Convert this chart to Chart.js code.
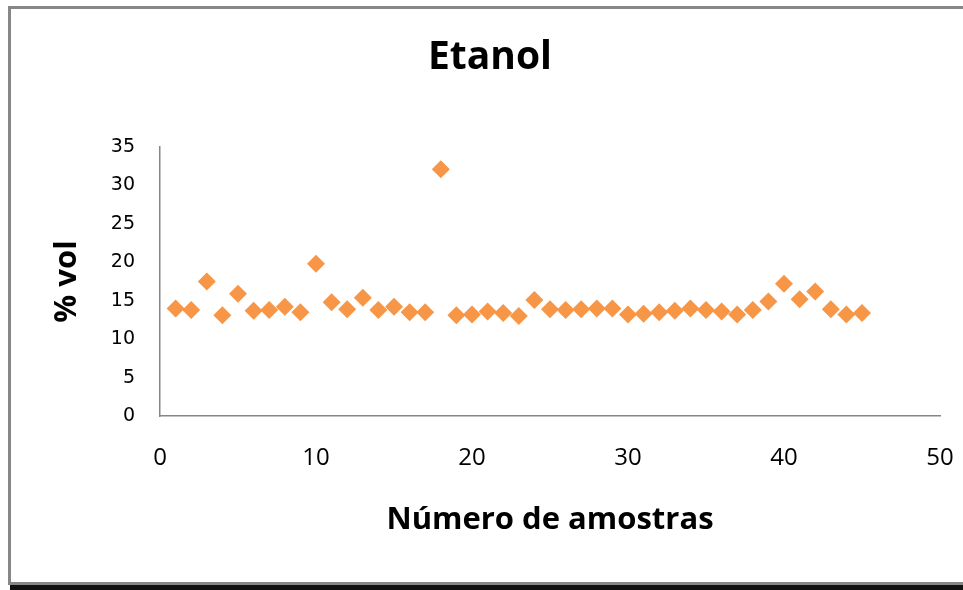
<!DOCTYPE html>
<html>
<head>
<meta charset="utf-8">
<script src="https://cdn.jsdelivr.net/npm/chart.js@4"></script>
<style>
  html, body { margin: 0; padding: 0; background: #fff; }
  #wrap { width: 963px; height: 590px; position: relative; }
</style>
</head>
<body>
<div id="wrap"><canvas id="c" width="963" height="590"></canvas></div>
<script>
const chartTitle = "Etanol";
const xAxisTitle = "Número de amostras";
const yAxisTitle = "% vol";
const sampleNumbers = [1,2,3,4,5,6,7,8,9,10,11,12,13,14,15,16,17,18,19,20,21,22,23,24,25,26,27,28,29,30,31,32,33,34,35,36,37,38,39,40,41,42,43,44,45];
const ethanolValues = [14.0,13.8,17.5,13.1,15.9,13.7,13.8,14.2,13.5,19.8,14.8,13.9,15.4,13.8,14.2,13.5,13.5,32.1,13.1,13.2,13.6,13.4,13.0,15.1,13.9,13.8,13.9,14.0,14.0,13.2,13.3,13.5,13.7,14.0,13.8,13.6,13.2,13.8,14.9,17.2,15.2,16.2,13.9,13.2,13.4];
const xTicks = [0,10,20,30,40,50];
const yTicks = [0,5,10,15,20,25,30,35];

const points = sampleNumbers.map((x, i) => ({ x: x, y: ethanolValues[i] }));
const TITLE_FONT = "'Open Sans', 'Noto Sans', sans-serif";

const framePlugin = {
  id: 'frame',
  beforeDraw(chart) {
    const ctx = chart.ctx;
    ctx.save();
    ctx.fillStyle = '#ffffff';
    ctx.fillRect(0, 0, chart.width, chart.height);
    ctx.fillStyle = '#878787';
    ctx.fillRect(8, 6, 3, 579);
    ctx.fillRect(8, 6, chart.width - 8, 3);
    ctx.fillRect(8, 582, chart.width - 8, 3);
    ctx.fillStyle = '#111111';
    ctx.fillRect(10, 585, chart.width - 10, 5);
    ctx.restore();
  }
};

new Chart(document.getElementById('c'), {
  type: 'scatter',
  data: {
    datasets: [{
      label: yAxisTitle,
      data: points,
      pointStyle: 'rectRot',
      pointRadius: 9,
      pointHoverRadius: 9,
      backgroundColor: '#F79646',
      borderColor: '#F79646',
      borderWidth: 0
    }]
  },
  options: {
    responsive: false,
    animation: false,
    layout: { padding: { left: 40, right: 23, top: 34.6, bottom: 0 } },
    plugins: {
      legend: { display: false },
      tooltip: { enabled: false },
      title: {
        display: true,
        text: chartTitle,
        color: '#000',
        font: { family: TITLE_FONT, size: 39, weight: 'bold', lineHeight: 1.2 },
        padding: { top: 0, bottom: 65.6 }
      }
    },
    scales: {
      x: {
        type: 'linear',
        min: 0, max: 50,
        afterBuildTicks(scale) { scale.ticks = xTicks.map(v => ({ value: v })); },
        afterFit(scale) { scale.height = 174; scale.paddingLeft = 0; scale.paddingRight = 0; },
        grid: { display: false, drawTicks: false },
        border: { display: true, color: '#868686', width: 1.5 },
        ticks: { color: '#000', font: { family: "'Open Sans', sans-serif", size: 24 }, padding: 28, maxRotation: 0 },
        title: {
          display: true, text: xAxisTitle, color: '#000',
          font: { family: TITLE_FONT, size: 31, weight: 'bold', lineHeight: 1.2 },
          padding: { top: 0, bottom: 51.4 }
        }
      },
      y: {
        type: 'linear',
        min: 0, max: 35,
        afterBuildTicks(scale) { scale.ticks = yTicks.map(v => ({ value: v })); },
        afterFit(scale) { scale.width = 120; scale.paddingTop = 0; scale.paddingBottom = 0; },
        grid: { display: false, drawTicks: false },
        border: { display: true, color: '#868686', width: 1.5 },
        ticks: { color: '#000', font: { family: "'DejaVu Sans', sans-serif", size: 19 }, padding: 25 },
        title: {
          display: true, text: yAxisTitle, color: '#000',
          font: { family: TITLE_FONT, size: 31, weight: 'bold', lineHeight: 1.2 },
          padding: { top: 8.4, bottom: 0 }
        }
      }
    }
  },
  plugins: [framePlugin]
});
</script>
</body>
</html>
